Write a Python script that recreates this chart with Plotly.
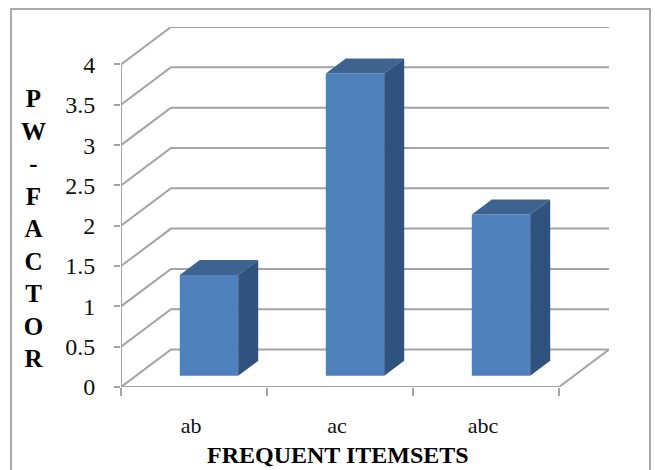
import plotly.graph_objects as go

# Chart data
categories = ["ab", "ac", "abc"]
pw_factor = [1.25, 3.75, 2.0]
y_ticks = [0, 0.5, 1, 1.5, 2, 2.5, 3, 3.5, 4]
y_tick_labels = ["0", "0.5", "1", "1.5", "2", "2.5", "3", "3.5", "4"]
x_title = "FREQUENT ITEMSETS"
y_title_letters = ["P", "W", "-", "F", "A", "C", "T", "O", "R"]

# Oblique projection: one full unit of depth moves this far along each axis
DEPTH_X = 0.3425
DEPTH_Y = 0.4647
BAR_WIDTH = 0.4
DEPTH_NEAR = 0.3
DEPTH_FAR = 0.7
X_MAX = len(categories)
Y_MAX = max(y_ticks)

FRONT = "#4F81BD"
TOP = "#3D6391"
SIDE = "#30527F"
GRID = "#A3A3A3"
SERIF = "Liberation Serif, Times New Roman, serif"


def project(x, value, depth):
    return x + depth * DEPTH_X, value + depth * DEPTH_Y


def face(points, color):
    xs, ys = zip(*points)
    return go.Scatter(x=list(xs) + [xs[0]], y=list(ys) + [ys[0]], mode="lines",
                      fill="toself", fillcolor=color, line=dict(width=0),
                      hoverinfo="skip", showlegend=False)


fig = go.Figure()

# Front faces of the columns
fig.add_bar(
    x=[i + 0.5 + DEPTH_NEAR * DEPTH_X for i in range(len(categories))],
    y=pw_factor,
    base=[DEPTH_NEAR * DEPTH_Y] * len(categories),
    width=BAR_WIDTH,
    marker=dict(color=FRONT, line=dict(width=0)),
    showlegend=False,
)

# Top and side faces of the columns
for i, value in enumerate(pw_factor):
    left = i + 0.5 - BAR_WIDTH / 2
    right = i + 0.5 + BAR_WIDTH / 2
    fig.add_trace(face([project(left, value, DEPTH_NEAR), project(right, value, DEPTH_NEAR),
                        project(right, value, DEPTH_FAR), project(left, value, DEPTH_FAR)], TOP))
    fig.add_trace(face([project(right, 0, DEPTH_NEAR), project(right, value, DEPTH_NEAR),
                        project(right, value, DEPTH_FAR), project(right, 0, DEPTH_FAR)], SIDE))

# Axis lines stop at the last tick rather than at the edge of the projected box
for xs, ys in (([0, 0], [0, Y_MAX]), ([0, X_MAX], [0, 0])):
    fig.add_trace(go.Scatter(x=xs, y=ys, mode="lines", line=dict(color=GRID, width=2),
                             cliponaxis=False, hoverinfo="skip", showlegend=False))

# Gridlines run along the side wall and then across the back wall
shapes = []
for v in y_ticks:
    bx, by = project(0, v, 1)
    ex, ey = project(X_MAX, v, 1)
    shapes.append(dict(type="path", xref="x", yref="y", layer="below",
                       path=f"M 0 {v} L {bx} {by} L {ex} {ey}",
                       line=dict(color=GRID, width=2)))
ex, ey = project(X_MAX, 0, 1)
shapes.append(dict(type="line", xref="x", yref="y", layer="below", x0=X_MAX, y0=0, x1=ex, y1=ey,
                   line=dict(color=GRID, width=2)))

# Outer chart border, running off the bottom of the page
shapes.append(dict(type="rect", xref="paper", yref="paper", layer="below",
                   x0=(11 - 121) / 488, x1=(650 - 121) / 488,
                   y0=(387 - 490) / 360, y1=(387 - 9) / 360,
                   line=dict(color="#A9A9A9", width=2)))

annotations = [
    dict(text="<br>".join(f"<b>{c}</b>" for c in y_title_letters), xref="paper", yref="paper",
         x=(33 - 121) / 488, y=(387 - 228) / 360, xanchor="center", yanchor="middle",
         showarrow=False, align="center", font=dict(family=SERIF, size=25, color="#000000")),
    dict(text=f"<b>{x_title}</b>", xref="paper", yref="paper",
         x=(338 - 121) / 488, y=(387 - 455) / 360, xanchor="center", yanchor="middle",
         showarrow=False, font=dict(family=SERIF, size=24, color="#000000")),
]

fig.update_layout(
    width=655, height=470,
    margin=dict(l=121, r=46, t=27, b=83, autoexpand=False),
    paper_bgcolor="white", plot_bgcolor="white",
    showlegend=False,
    shapes=shapes, annotations=annotations,
    xaxis=dict(
        range=[0, X_MAX + DEPTH_X], showgrid=False, zeroline=False, showline=False,
        tickmode="array", tickvals=[i + 0.5 for i in range(len(categories))], ticktext=categories,
        ticks="", ticklabelstandoff=23, ticklabelshift=-3,
        tickfont=dict(family=SERIF, size=22, color="#111111"),
        minor=dict(tickmode="array", tickvals=list(range(X_MAX + 1)), ticks="outside",
                   ticklen=8, tickwidth=2, tickcolor=GRID, showgrid=False),
    ),
    yaxis=dict(
        range=[0, Y_MAX + DEPTH_Y], showgrid=False, zeroline=False, showline=False,
        tickmode="array", tickvals=y_ticks, ticktext=y_tick_labels,
        ticks="outside", ticklen=6, tickwidth=2, tickcolor=GRID,
        ticklabelstandoff=14,
        tickfont=dict(family=SERIF, size=24, color="#111111"),
    ),
)

fig.write_html("out.html", config=dict(displayModeBar=False))
